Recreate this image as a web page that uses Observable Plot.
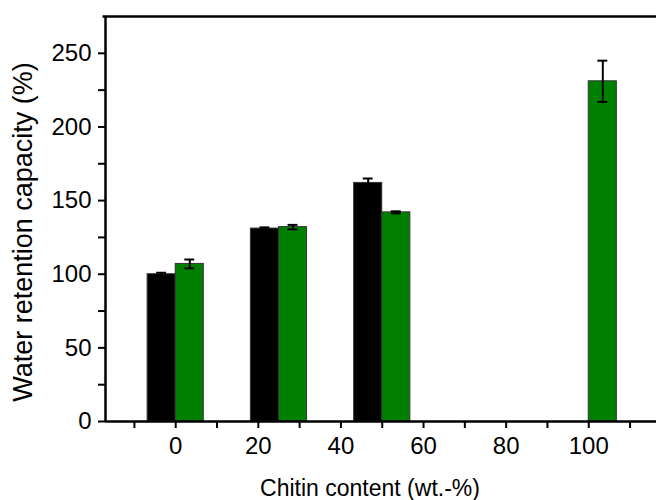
<!DOCTYPE html>
<html><head><meta charset="utf-8">
<script src="https://cdn.jsdelivr.net/npm/d3@7"></script>
<script src="https://cdn.jsdelivr.net/npm/@observablehq/plot@0.6"></script>
<style>body{margin:0;background:#fff} svg{display:block}</style>
</head><body><div id="chart"></div>
<script>
const chitin = [0, 25, 50, 100];
const blackValues = [100, 131, 162, null];
const blackErrors = [1, 0.8, 3, null];
const greenValues = [107, 132, 142, 231];
const greenErrors = [3, 1.5, 0.7, 14];
const xMajorTicks = [0, 20, 40, 60, 80, 100];
const xMinorTicks = [-10, 10, 30, 50, 70, 90, 110];
const yMajorTicks = [0, 50, 100, 150, 200, 250];
const yMinorTicks = [25, 75, 125, 175, 225];
const xTitle = "Chitin content (wt.-%)";
const yTitle = "Water retention capacity (%)";

const xDomain = [-17, 116.4];
const yDomain = [0, 275];
const barW = 6.8;
const capHalf = 1.2;

const blackRows = [], greenRows = [];
chitin.forEach((c, i) => {
  if (blackValues[i] != null) blackRows.push({x1: c - barW, x2: c, xc: c - barW / 2, y: blackValues[i], err: blackErrors[i]});
  greenRows.push({x1: c, x2: c + barW, xc: c + barW / 2, y: greenValues[i], err: greenErrors[i]});
});
const allRows = blackRows.concat(greenRows);

const font = "'Liberation Sans', Arial, sans-serif";
const plot = Plot.plot({
  width: 656, height: 500,
  marginLeft: 105, marginRight: 0, marginTop: 16, marginBottom: 79,
  x: {domain: xDomain},
  y: {domain: yDomain},
  style: {fontFamily: font, fontSize: "24px", color: "#000", background: "#fff", overflow: "visible"},
  marks: [
    Plot.rect(blackRows, {x1: "x1", x2: "x2", y1: 0, y2: "y", fill: "#000", stroke: "#333", strokeWidth: 1}),
    Plot.rect(greenRows, {x1: "x1", x2: "x2", y1: 0, y2: "y", fill: "#008000", stroke: "#333", strokeWidth: 1}),
    Plot.ruleX(allRows, {x: "xc", y1: d => d.y - d.err, y2: d => d.y + d.err, stroke: "#000", strokeWidth: 2}),
    Plot.ruleY(allRows, {y: d => d.y + d.err, x1: d => d.xc - capHalf, x2: d => d.xc + capHalf, stroke: "#000", strokeWidth: 2}),
    Plot.ruleY(allRows, {y: d => d.y - d.err, x1: d => d.xc - capHalf, x2: d => d.xc + capHalf, stroke: "#000", strokeWidth: 2}),
    Plot.axisX({ticks: xMajorTicks, tickSize: 7, tickPadding: 8, strokeWidth: 2, label: null, fontSize: 24}),
    Plot.axisX({ticks: xMinorTicks, tickSize: 7, strokeWidth: 2, label: null, tickFormat: () => ""}),
    Plot.axisY({ticks: yMajorTicks, tickSize: 7, tickPadding: 7, strokeWidth: 2, label: null, fontSize: 24}),
    Plot.axisY({ticks: yMinorTicks, tickSize: 7, strokeWidth: 2, label: null, tickFormat: () => ""}),
    Plot.ruleX([xDomain[0]], {stroke: "#000", strokeWidth: 2.5}),
    Plot.ruleY([yDomain[0]], {stroke: "#000", strokeWidth: 2.5}),
    Plot.ruleY([yDomain[1]], {stroke: "#000", strokeWidth: 2.5, x1: xDomain[0] - 0.6, x2: xDomain[1]}),
    Plot.text([xTitle], {text: d => d, frameAnchor: "bottom", textAnchor: "middle", lineAnchor: "middle", dx: -11, dy: 67, fontSize: 23}),
    Plot.text([yTitle], {text: d => d, frameAnchor: "left", textAnchor: "middle", lineAnchor: "middle", rotate: -90, dx: -82, dy: 13, fontSize: 27})
  ]
});
document.getElementById("chart").appendChild(plot);
</script>
</body></html>
